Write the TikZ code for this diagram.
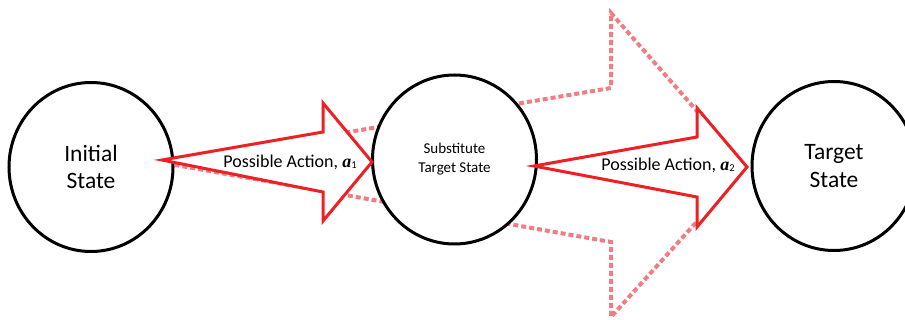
\documentclass[tikz,border=0pt]{standalone}
\usepackage{fontspec}
\setmainfont{Carlito}
\newfontfamily\serifbi{Liberation Serif}
\usetikzlibrary{shapes.geometric}
\definecolor{arrowred}{RGB}{237,32,36}
\definecolor{dotpink}{RGB}{241,125,130}
\tikzset{
  statenode/.style={ellipse, draw=black, line width=3pt, fill=white, minimum width=164pt, minimum height=169pt, inner sep=0pt, align=center},
  redarrow/.style={draw=arrowred, line width=3pt, fill=white, line join=miter},
  bigdotted/.style={draw=dotpink, line width=4pt, dash pattern=on 5pt off 3pt, line join=miter},
  actlabel/.style={font=\fontsize{18}{21}\selectfont, anchor=base, inner sep=0pt}
}
\newcommand{\actvar}[1]{{\serifbi\bfseries\itshape a}\raisebox{-1pt}{\fontsize{10.5}{10.5}\selectfont #1}}
\begin{document}
\begin{tikzpicture}[x=1pt,y=-1pt]
\fill[white] (0,0) rectangle (905,320);
\useasboundingbox (0,0) rectangle (905,320);
% large dotted arrow (background)
\coordinate (dt) at (164,163);
\draw[bigdotted] (dt) -- (611,88) -- (611,13) -- (746,167) -- (611,317) -- (611,242) -- cycle;
% states
\node[statenode, font=\fontsize{23.5}{27}\selectfont] (init) at (91,167) {Initial\\State};
\node[statenode, font=\fontsize{15}{19}\selectfont] (sub) at (454.5,159.5) {Substitute\\Target State};
\node[statenode, font=\fontsize{23.5}{28}\selectfont] (target) at (834,166) {Target\\State};
% red action arrows
\coordinate (t1) at (162,160);
\coordinate (t2) at (534,166);
\draw[redarrow] (t1) -- (323,132) -- (323,103) -- (372,162) -- (323,221) -- (323,192) -- cycle;
\draw[redarrow] (t2) -- (697,137) -- (697,108) -- (747,167) -- (697,227) -- (697,197) -- cycle;
\node[actlabel] (l1) at (290,168) {Possible Action, \actvar{1}};
\node[actlabel] (l2) at (668,171) {Possible Action, \actvar{2}};
\end{tikzpicture}
\end{document}
